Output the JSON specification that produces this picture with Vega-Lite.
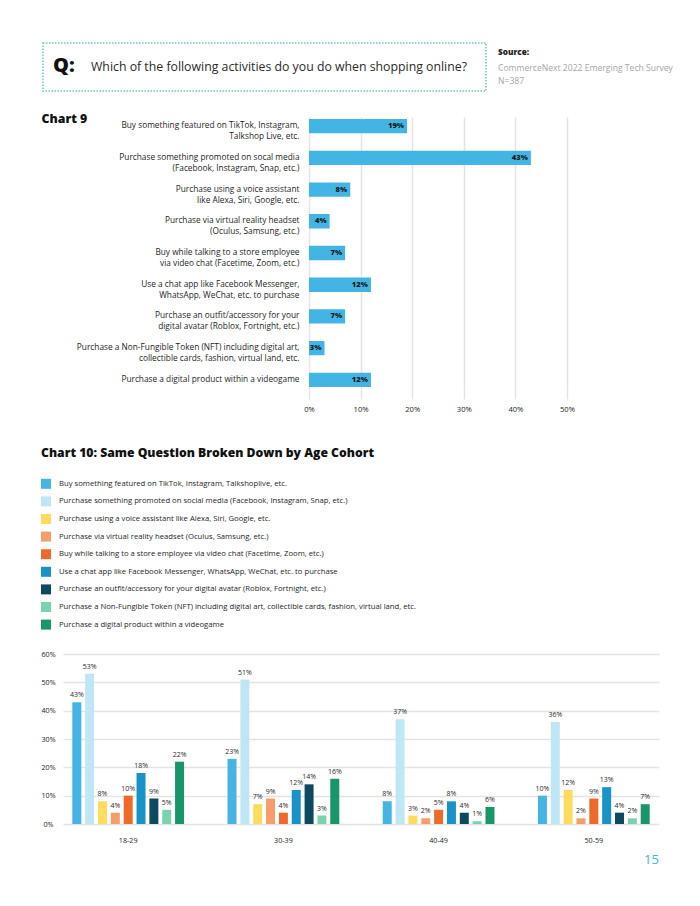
{
  "$schema": "https://vega.github.io/schema/vega-lite/v6.json",
  "padding": {"left": 40, "top": 42, "right": 0, "bottom": 0},
  "background": "white",
  "config": {
    "font": "Open Sans",
    "view": {"stroke": null},
    "axis": {"labelFont": "Open Sans", "titleFont": "Open Sans", "labelFlush": false},
    "title": {"font": "Open Sans"}
  },
  "datasets": {
    "chart9": [
      {"activity": "Buy something featured on TikTok, Instagram,|Talkshop Live, etc.", "value": 0.19},
      {"activity": "Purchase something promoted on socal media|(Facebook, Instagram, Snap, etc.)", "value": 0.43},
      {"activity": "Purchase using a voice assistant|like Alexa, Siri, Google, etc.", "value": 0.08},
      {"activity": "Purchase via virtual reality headset|(Oculus, Samsung, etc.)", "value": 0.04},
      {"activity": "Buy while talking to a store employee|via video chat (Facetime, Zoom, etc.)", "value": 0.07},
      {"activity": "Use a chat app like Facebook Messenger,|WhatsApp, WeChat, etc. to purchase", "value": 0.12},
      {"activity": "Purchase an outfit/accessory for your|digital avatar (Roblox, Fortnight, etc.)", "value": 0.07},
      {"activity": "Purchase a Non-Fungible Token (NFT) including digital art,|collectible cards, fashion, virtual land, etc.", "value": 0.03},
      {"activity": "Purchase a digital product within a videogame", "value": 0.12}
    ],
    "activities": [
      {"activity": "Buy something featured on TikTok, Instagram, Talkshoplive, etc."},
      {"activity": "Purchase something promoted on social media (Facebook, Instagram, Snap, etc.)"},
      {"activity": "Purchase using a voice assistant like Alexa, Siri, Google, etc."},
      {"activity": "Purchase via virtual reality headset (Oculus, Samsung, etc.)"},
      {"activity": "Buy while talking to a store employee via video chat (Facetime, Zoom, etc.)"},
      {"activity": "Use a chat app like Facebook Messenger, WhatsApp, WeChat, etc. to purchase"},
      {"activity": "Purchase an outfit/accessory for your digital avatar (Roblox, Fortnight, etc.)"},
      {"activity": "Purchase a Non-Fungible Token (NFT) including digital art, collectible cards, fashion, virtual land, etc."},
      {"activity": "Purchase a digital product within a videogame"}
    ],
    "chart10": [
      {"age": "18-29", "activity": "Buy something featured on TikTok, Instagram, Talkshoplive, etc.", "value": 0.43},
      {"age": "18-29", "activity": "Purchase something promoted on social media (Facebook, Instagram, Snap, etc.)", "value": 0.53},
      {"age": "18-29", "activity": "Purchase using a voice assistant like Alexa, Siri, Google, etc.", "value": 0.08},
      {"age": "18-29", "activity": "Purchase via virtual reality headset (Oculus, Samsung, etc.)", "value": 0.04},
      {"age": "18-29", "activity": "Buy while talking to a store employee via video chat (Facetime, Zoom, etc.)", "value": 0.10},
      {"age": "18-29", "activity": "Use a chat app like Facebook Messenger, WhatsApp, WeChat, etc. to purchase", "value": 0.18},
      {"age": "18-29", "activity": "Purchase an outfit/accessory for your digital avatar (Roblox, Fortnight, etc.)", "value": 0.09},
      {"age": "18-29", "activity": "Purchase a Non-Fungible Token (NFT) including digital art, collectible cards, fashion, virtual land, etc.", "value": 0.05},
      {"age": "18-29", "activity": "Purchase a digital product within a videogame", "value": 0.22},
      {"age": "30-39", "activity": "Buy something featured on TikTok, Instagram, Talkshoplive, etc.", "value": 0.23},
      {"age": "30-39", "activity": "Purchase something promoted on social media (Facebook, Instagram, Snap, etc.)", "value": 0.51},
      {"age": "30-39", "activity": "Purchase using a voice assistant like Alexa, Siri, Google, etc.", "value": 0.07},
      {"age": "30-39", "activity": "Purchase via virtual reality headset (Oculus, Samsung, etc.)", "value": 0.09},
      {"age": "30-39", "activity": "Buy while talking to a store employee via video chat (Facetime, Zoom, etc.)", "value": 0.04},
      {"age": "30-39", "activity": "Use a chat app like Facebook Messenger, WhatsApp, WeChat, etc. to purchase", "value": 0.12},
      {"age": "30-39", "activity": "Purchase an outfit/accessory for your digital avatar (Roblox, Fortnight, etc.)", "value": 0.14},
      {"age": "30-39", "activity": "Purchase a Non-Fungible Token (NFT) including digital art, collectible cards, fashion, virtual land, etc.", "value": 0.03},
      {"age": "30-39", "activity": "Purchase a digital product within a videogame", "value": 0.16},
      {"age": "40-49", "activity": "Buy something featured on TikTok, Instagram, Talkshoplive, etc.", "value": 0.08},
      {"age": "40-49", "activity": "Purchase something promoted on social media (Facebook, Instagram, Snap, etc.)", "value": 0.37},
      {"age": "40-49", "activity": "Purchase using a voice assistant like Alexa, Siri, Google, etc.", "value": 0.03},
      {"age": "40-49", "activity": "Purchase via virtual reality headset (Oculus, Samsung, etc.)", "value": 0.02},
      {"age": "40-49", "activity": "Buy while talking to a store employee via video chat (Facetime, Zoom, etc.)", "value": 0.05},
      {"age": "40-49", "activity": "Use a chat app like Facebook Messenger, WhatsApp, WeChat, etc. to purchase", "value": 0.08},
      {"age": "40-49", "activity": "Purchase an outfit/accessory for your digital avatar (Roblox, Fortnight, etc.)", "value": 0.04},
      {"age": "40-49", "activity": "Purchase a Non-Fungible Token (NFT) including digital art, collectible cards, fashion, virtual land, etc.", "value": 0.01},
      {"age": "40-49", "activity": "Purchase a digital product within a videogame", "value": 0.06},
      {"age": "50-59", "activity": "Buy something featured on TikTok, Instagram, Talkshoplive, etc.", "value": 0.10},
      {"age": "50-59", "activity": "Purchase something promoted on social media (Facebook, Instagram, Snap, etc.)", "value": 0.36},
      {"age": "50-59", "activity": "Purchase using a voice assistant like Alexa, Siri, Google, etc.", "value": 0.12},
      {"age": "50-59", "activity": "Purchase via virtual reality headset (Oculus, Samsung, etc.)", "value": 0.02},
      {"age": "50-59", "activity": "Buy while talking to a store employee via video chat (Facetime, Zoom, etc.)", "value": 0.09},
      {"age": "50-59", "activity": "Use a chat app like Facebook Messenger, WhatsApp, WeChat, etc. to purchase", "value": 0.13},
      {"age": "50-59", "activity": "Purchase an outfit/accessory for your digital avatar (Roblox, Fortnight, etc.)", "value": 0.04},
      {"age": "50-59", "activity": "Purchase a Non-Fungible Token (NFT) including digital art, collectible cards, fashion, virtual land, etc.", "value": 0.02},
      {"age": "50-59", "activity": "Purchase a digital product within a videogame", "value": 0.07}
    ]
  },
  "align": "none",
  "spacing": 20,
  "vconcat": [
    {
      "width": 423,
      "height": 48,
      "data": {"values": [{"q": "Q:", "question": "Which of the following activities do you do when shopping online?", "source": "Source:", "survey": "CommerceNext 2022 Emerging Tech Survey", "n": "N=387"}]},
      "layer": [
        {"mark": {"type": "rect", "fill": null, "fillOpacity": 0, "stroke": "#6cc4ce", "strokeWidth": 1.5, "strokeDash": [1.5, 1.5]},
         "encoding": {"x": {"value": -20}, "x2": {"value": 423}, "y": {"value": 0}, "y2": {"value": 48}}},
        {"mark": {"type": "text", "align": "left", "baseline": "middle", "fontSize": 20, "fontWeight": 800, "color": "#111"},
         "encoding": {"text": {"field": "q"}, "x": {"value": -10}, "y": {"value": 23}}},
        {"mark": {"type": "text", "align": "left", "baseline": "middle", "fontSize": 12.3, "color": "#2a2a2a"},
         "encoding": {"text": {"field": "question"}, "x": {"value": 28}, "y": {"value": 24}}},
        {"mark": {"type": "text", "align": "left", "baseline": "middle", "fontSize": 8.2, "fontWeight": 800, "color": "#222"},
         "encoding": {"text": {"field": "source"}, "x": {"value": 435}, "y": {"value": 10}}},
        {"mark": {"type": "text", "align": "left", "baseline": "middle", "fontSize": 8.6, "color": "#a5a5a5"},
         "encoding": {"text": {"field": "survey"}, "x": {"value": 435}, "y": {"value": 25}}},
        {"mark": {"type": "text", "align": "left", "baseline": "middle", "fontSize": 8.6, "color": "#a5a5a5"},
         "encoding": {"text": {"field": "n"}, "x": {"value": 435}, "y": {"value": 38}}}
      ]
    },
    {
      "align": "none",
      "spacing": 33,
      "vconcat": [
        {
          "width": 504,
          "height": 272,
          "data": {"name": "chart9"},
          "encoding": {
            "y": {
              "field": "activity", "type": "nominal", "sort": null,
              "scale": {"paddingInner": 0.55, "paddingOuter": 0.06},
              "axis": {
                "title": "Chart 9", "titleAngle": 0, "titleAlign": "left", "titleBaseline": "middle",
                "titleX": -22, "titleY": 1, "titleFontSize": 12.3, "titleFontWeight": 800, "titleColor": "#111",
                "labelExpr": "split(datum.label, '|')", "labelFontSize": 8.3, "labelLineHeight": 11,
                "labelColor": "#1e1e1e", "labelFontWeight": 500, "labelAlign": "right", "labelPadding": -236, "labelLimit": 400,
                "ticks": false, "tickSize": 0, "domain": false
              }
            }
          },
          "layer": [
            {
              "mark": {"type": "bar", "color": "#43b5e5"},
              "encoding": {
                "x": {
                  "field": "value", "type": "quantitative", "scale": {"domain": [0, 0.5], "range": [246, 504]},
                  "axis": {
                    "title": null, "values": [0, 0.1, 0.2, 0.3, 0.4, 0.5], "format": ".0%",
                    "grid": true, "gridColor": "#e4e4e4", "gridWidth": 1.5,
                    "ticks": true, "tickSize": 10, "tickColor": "#e4e4e4", "tickWidth": 1.5,
                    "domain": false, "labelFlush": false, "labelPadding": 6, "labelFontSize": 7.6, "labelFontWeight": 500, "labelColor": "#1e1e1e"
                  }
                }
              }
            },
            {
              "mark": {"type": "text", "align": "right", "baseline": "middle", "dx": -3, "fontSize": 7.6, "fontWeight": 800, "color": "#1a1a1a"},
              "encoding": {
                "x": {"field": "value", "type": "quantitative"},
                "text": {"field": "value", "type": "quantitative", "format": ".0%"}
              }
            }
          ]
        },
        {
          "align": "none",
          "spacing": 16,
          "vconcat": [
            {
              "width": 400,
              "height": 158.4,
              "data": {"name": "activities"},
              "title": {"text": "Chart 10: Same Question Broken Down by Age Cohort", "anchor": "start", "frame": "bounds", "fontSize": 12.2, "fontWeight": 800, "color": "#111", "offset": 16},
              "encoding": {
                "y": {"field": "activity", "type": "nominal", "sort": null, "scale": {"paddingInner": 0, "paddingOuter": 0}, "axis": null},
                "color": {
                  "field": "activity", "type": "nominal", "legend": null,
                  "scale": {
                    "domain": [
                      "Buy something featured on TikTok, Instagram, Talkshoplive, etc.",
                      "Purchase something promoted on social media (Facebook, Instagram, Snap, etc.)",
                      "Purchase using a voice assistant like Alexa, Siri, Google, etc.",
                      "Purchase via virtual reality headset (Oculus, Samsung, etc.)",
                      "Buy while talking to a store employee via video chat (Facetime, Zoom, etc.)",
                      "Use a chat app like Facebook Messenger, WhatsApp, WeChat, etc. to purchase",
                      "Purchase an outfit/accessory for your digital avatar (Roblox, Fortnight, etc.)",
                      "Purchase a Non-Fungible Token (NFT) including digital art, collectible cards, fashion, virtual land, etc.",
                      "Purchase a digital product within a videogame"
                    ],
                    "range": ["#45b4e3", "#bfe6f4", "#fcdc5c", "#f69d6b", "#ee6a2b", "#1992c8", "#0e4a5f", "#7bd3ad", "#189569"]
                  }
                }
              },
              "layer": [
                {"mark": {"type": "square", "size": 100, "opacity": 1, "filled": true},
                 "encoding": {"x": {"value": -17}}},
                {"mark": {"type": "text", "align": "left", "baseline": "middle", "fontSize": 7.7, "fontWeight": 500, "color": "#1e1e1e"},
                 "encoding": {"x": {"value": -4}, "text": {"field": "activity"}, "color": {"value": "#1e1e1e"}}}
              ]
            },
            {
              "width": 596,
              "height": 170,
              "data": {"name": "chart10"},
              "encoding": {
                "x": {
                  "field": "age", "type": "nominal",
                  "scale": {"paddingInner": 0.28, "paddingOuter": 0.06},
                  "axis": {
                    "title": "15", "titleX": 588, "titleY": 35, "titleFontSize": 13, "titleFontWeight": "normal",
                    "titleColor": "#3db8c9", "titleBaseline": "middle", "titleAlign": "center",
                    "labelAngle": 0, "labelFontSize": 7.2, "labelFontWeight": 500, "labelPadding": 12, "labelColor": "#1e1e1e",
                    "ticks": false, "tickSize": 0, "domain": false, "grid": false
                  }
                },
                "xOffset": {
                  "field": "activity", "type": "nominal", "sort": null,
                  "scale": {"paddingInner": 0.3, "paddingOuter": 0}
                },
                "y": {
                  "field": "value", "type": "quantitative", "scale": {"domain": [0, 0.6]},
                  "axis": {
                    "title": null, "values": [0, 0.1, 0.2, 0.3, 0.4, 0.5, 0.6], "format": ".0%",
                    "grid": true, "gridColor": "#e4e4e4", "gridWidth": 1.5,
                    "ticks": false, "tickSize": 0, "domain": false, "labelFlush": false,
                    "labelAlign": "center", "labelPadding": 15, "labelFontSize": 7.2, "labelFontWeight": 500, "labelColor": "#1e1e1e"
                  }
                }
              },
              "layer": [
                {
                  "mark": {"type": "bar"},
                  "encoding": {
                    "color": {
                      "field": "activity", "type": "nominal", "legend": null,
                      "scale": {
                        "domain": [
                          "Buy something featured on TikTok, Instagram, Talkshoplive, etc.",
                          "Purchase something promoted on social media (Facebook, Instagram, Snap, etc.)",
                          "Purchase using a voice assistant like Alexa, Siri, Google, etc.",
                          "Purchase via virtual reality headset (Oculus, Samsung, etc.)",
                          "Buy while talking to a store employee via video chat (Facetime, Zoom, etc.)",
                          "Use a chat app like Facebook Messenger, WhatsApp, WeChat, etc. to purchase",
                          "Purchase an outfit/accessory for your digital avatar (Roblox, Fortnight, etc.)",
                          "Purchase a Non-Fungible Token (NFT) including digital art, collectible cards, fashion, virtual land, etc.",
                          "Purchase a digital product within a videogame"
                        ],
                        "range": ["#45b4e3", "#bfe6f4", "#fcdc5c", "#f69d6b", "#ee6a2b", "#1992c8", "#0e4a5f", "#7bd3ad", "#189569"]
                      }
                    }
                  }
                },
                {
                  "mark": {"type": "text", "baseline": "middle", "dy": -7, "fontSize": 7, "fontWeight": 500, "color": "#2a2a2a"},
                  "encoding": {
                    "text": {"field": "value", "type": "quantitative", "format": ".0%"}
                  }
                }
              ]
            }
          ]
        }
      ]
    }
  ]
}
